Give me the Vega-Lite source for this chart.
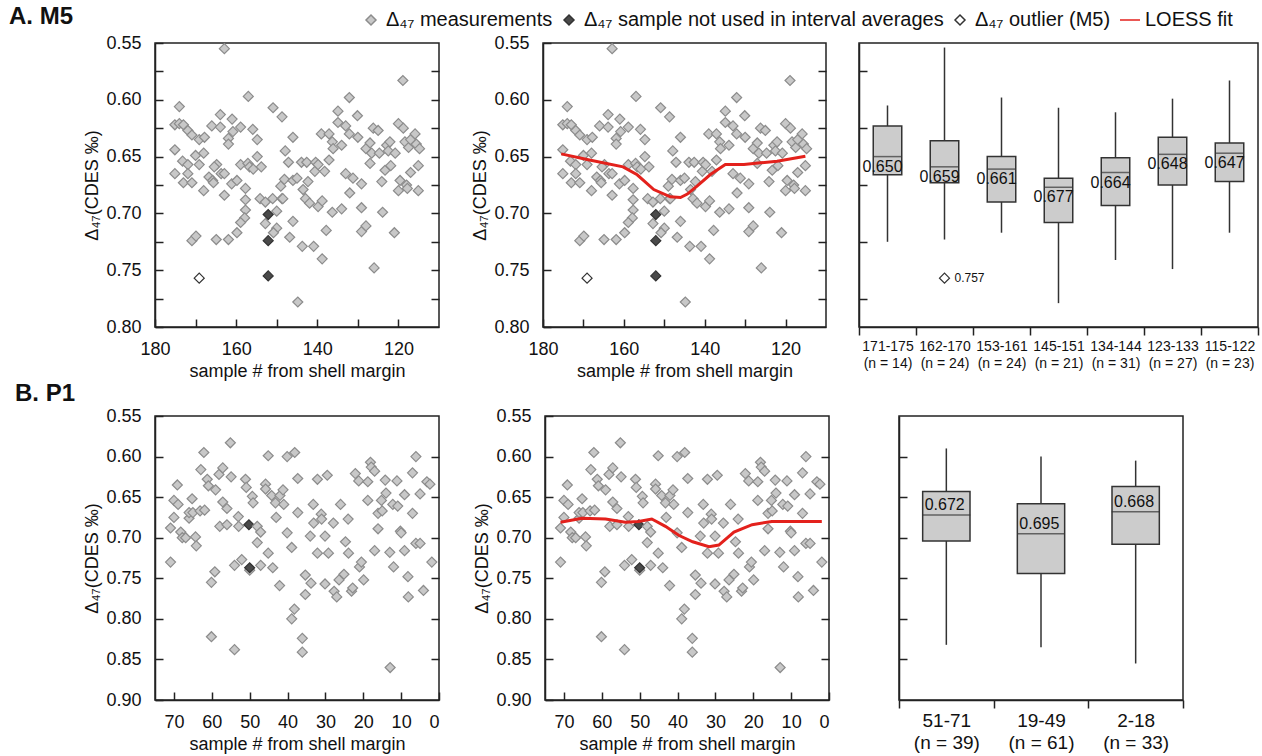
{
"$schema": "https://vega.github.io/schema/vega-lite/v6.json",
"background": "white",
"padding": {"left": 8, "top": 4, "right": 0, "bottom": 0},
"config": {
  "font": "Liberation Sans",
  "view": {"stroke": "#222222", "strokeWidth": 1.5},
  "axis": {"grid": false, "domainColor": "#222222", "domainWidth": 1.5, "tickColor": "#222222", "tickWidth": 1.5, "labelColor": "#111111", "titleColor": "#111111", "labelFont": "Liberation Sans", "titleFont": "Liberation Sans", "labelFontSize": 18, "titleFontSize": 18, "titleFontWeight": "normal"}
},
"datasets": {
"m5": [
{"s":162.9,"d":0.555,"t":"m"},{"s":157.0,"d":0.597,"t":"m"},{"s":174.0,"d":0.606,"t":"m"},{"s":150.9,"d":0.607,"t":"m"},{"s":148.7,"d":0.615,"t":"m"},{"s":163.9,"d":0.613,"t":"m"},{"s":175.1,"d":0.622,"t":"m"},{"s":174.0,"d":0.621,"t":"m"},{"s":173.0,"d":0.622,"t":"m"},{"s":171.9,"d":0.627,"t":"m"},{"s":170.9,"d":0.631,"t":"m"},{"s":169.1,"d":0.635,"t":"m"},{"s":167.8,"d":0.633,"t":"m"},{"s":166.0,"d":0.623,"t":"m"},{"s":163.9,"d":0.624,"t":"m"},{"s":161.0,"d":0.617,"t":"m"},{"s":160.8,"d":0.628,"t":"m"},{"s":161.9,"d":0.634,"t":"m"},{"s":161.9,"d":0.639,"t":"m"},{"s":158.9,"d":0.624,"t":"m"},{"s":155.9,"d":0.626,"t":"m"},{"s":154.8,"d":0.635,"t":"m"},{"s":175.1,"d":0.644,"t":"m"},{"s":170.0,"d":0.649,"t":"m"},{"s":168.0,"d":0.647,"t":"m"},{"s":173.2,"d":0.654,"t":"m"},{"s":171.9,"d":0.657,"t":"m"},{"s":169.1,"d":0.657,"t":"m"},{"s":175.1,"d":0.665,"t":"m"},{"s":171.9,"d":0.665,"t":"m"},{"s":173.0,"d":0.673,"t":"m"},{"s":170.9,"d":0.673,"t":"m"},{"s":168.0,"d":0.680,"t":"m"},{"s":166.7,"d":0.668,"t":"m"},{"s":165.8,"d":0.671,"t":"m"},{"s":165.6,"d":0.673,"t":"m"},{"s":164.8,"d":0.657,"t":"m"},{"s":165.4,"d":0.659,"t":"m"},{"s":163.7,"d":0.665,"t":"m"},{"s":162.9,"d":0.665,"t":"m"},{"s":162.9,"d":0.684,"t":"m"},{"s":161.1,"d":0.674,"t":"m"},{"s":159.8,"d":0.671,"t":"m"},{"s":158.9,"d":0.657,"t":"m"},{"s":157.1,"d":0.656,"t":"m"},{"s":156.7,"d":0.659,"t":"m"},{"s":155.8,"d":0.661,"t":"m"},{"s":154.8,"d":0.650,"t":"m"},{"s":153.8,"d":0.659,"t":"m"},{"s":157.7,"d":0.678,"t":"m"},{"s":157.7,"d":0.688,"t":"m"},{"s":157.7,"d":0.697,"t":"m"},{"s":157.9,"d":0.704,"t":"m"},{"s":158.9,"d":0.708,"t":"m"},{"s":159.8,"d":0.717,"t":"m"},{"s":161.9,"d":0.723,"t":"m"},{"s":164.9,"d":0.723,"t":"m"},{"s":170.9,"d":0.724,"t":"m"},{"s":169.9,"d":0.720,"t":"m"},
{"s":169.1,"d":0.757,"t":"o"},
{"s":154.1,"d":0.687,"t":"m"},{"s":152.8,"d":0.690,"t":"m"},{"s":152.8,"d":0.709,"t":"m"},
{"s":152.1,"d":0.701,"t":"n"},{"s":152.1,"d":0.724,"t":"n"},{"s":152.1,"d":0.755,"t":"n"},
{"s":151.0,"d":0.687,"t":"m"},{"s":150.0,"d":0.698,"t":"m"},{"s":150.0,"d":0.713,"t":"m"},{"s":150.8,"d":0.717,"t":"m"},{"s":149.0,"d":0.676,"t":"m"},{"s":148.7,"d":0.687,"t":"m"},{"s":147.9,"d":0.645,"t":"m"},{"s":148.5,"d":0.687,"t":"m"},{"s":148.1,"d":0.670,"t":"m"},{"s":147.1,"d":0.655,"t":"m"},{"s":146.8,"d":0.721,"t":"m"},{"s":146.0,"d":0.633,"t":"m"},{"s":146.0,"d":0.707,"t":"m"},{"s":146.0,"d":0.671,"t":"m"},{"s":145.0,"d":0.669,"t":"m"},{"s":144.8,"d":0.778,"t":"m"},{"s":143.9,"d":0.655,"t":"m"},{"s":143.7,"d":0.729,"t":"m"},{"s":143.5,"d":0.679,"t":"m"},{"s":142.9,"d":0.687,"t":"m"},{"s":142.6,"d":0.655,"t":"m"},{"s":142.3,"d":0.672,"t":"m"},{"s":141.9,"d":0.691,"t":"m"},{"s":140.9,"d":0.729,"t":"m"},{"s":140.6,"d":0.663,"t":"m"},{"s":140.4,"d":0.655,"t":"m"},{"s":139.8,"d":0.657,"t":"m"},{"s":139.8,"d":0.694,"t":"m"},{"s":139.0,"d":0.630,"t":"m"},{"s":138.8,"d":0.740,"t":"m"},{"s":138.8,"d":0.689,"t":"m"},{"s":138.2,"d":0.663,"t":"m"},{"s":137.8,"d":0.715,"t":"m"},
{"s":137.1,"d":0.630,"t":"m"},{"s":137.1,"d":0.653,"t":"m"},{"s":136.3,"d":0.637,"t":"m"},{"s":136.3,"d":0.699,"t":"m"},{"s":136.1,"d":0.643,"t":"m"},{"s":134.9,"d":0.610,"t":"m"},{"s":134.9,"d":0.620,"t":"m"},{"s":134.0,"d":0.640,"t":"m"},{"s":134.0,"d":0.696,"t":"m"},{"s":133.0,"d":0.623,"t":"m"},{"s":133.0,"d":0.665,"t":"m"},{"s":132.1,"d":0.598,"t":"m"},{"s":132.1,"d":0.630,"t":"m"},{"s":132.0,"d":0.682,"t":"m"},{"s":131.2,"d":0.669,"t":"m"},{"s":130.1,"d":0.614,"t":"m"},{"s":130.0,"d":0.633,"t":"m"},{"s":129.1,"d":0.674,"t":"m"},{"s":129.1,"d":0.695,"t":"m"},{"s":129.1,"d":0.716,"t":"m"},{"s":128.0,"d":0.711,"t":"m"},{"s":128.0,"d":0.643,"t":"m"},{"s":127.0,"d":0.638,"t":"m"},{"s":127.0,"d":0.656,"t":"m"},{"s":126.6,"d":0.647,"t":"m"},{"s":126.2,"d":0.625,"t":"m"},{"s":126.0,"d":0.748,"t":"m"},{"s":125.0,"d":0.627,"t":"m"},{"s":124.7,"d":0.647,"t":"m"},{"s":124.1,"d":0.672,"t":"m"},{"s":123.9,"d":0.699,"t":"m"},{"s":123.3,"d":0.662,"t":"m"},{"s":122.9,"d":0.640,"t":"m"},{"s":122.5,"d":0.645,"t":"m"},{"s":122.1,"d":0.637,"t":"m"},{"s":121.9,"d":0.658,"t":"m"},{"s":121.0,"d":0.717,"t":"m"},{"s":120.8,"d":0.647,"t":"m"},{"s":120.0,"d":0.621,"t":"m"},{"s":120.0,"d":0.680,"t":"m"},{"s":119.6,"d":0.671,"t":"m"},{"s":118.9,"d":0.583,"t":"m"},{"s":118.8,"d":0.625,"t":"m"},{"s":118.4,"d":0.637,"t":"m"},{"s":118.0,"d":0.675,"t":"m"},{"s":117.8,"d":0.678,"t":"m"},{"s":117.5,"d":0.642,"t":"m"},{"s":117.0,"d":0.635,"t":"m"},{"s":117.0,"d":0.664,"t":"m"},{"s":115.9,"d":0.630,"t":"m"},{"s":115.6,"d":0.639,"t":"m"},{"s":115.1,"d":0.680,"t":"m"},{"s":115.1,"d":0.658,"t":"m"},{"s":114.8,"d":0.643,"t":"m"}
],
"p1": [
{"s":70.9,"d":0.688,"t":"m"},{"s":70.9,"d":0.730,"t":"m"},{"s":70.0,"d":0.675,"t":"m"},{"s":70.0,"d":0.654,"t":"m"},{"s":69.1,"d":0.635,"t":"m"},{"s":68.9,"d":0.659,"t":"m"},{"s":68.2,"d":0.693,"t":"m"},{"s":67.8,"d":0.700,"t":"m"},{"s":66.9,"d":0.700,"t":"m"},{"s":66.0,"d":0.676,"t":"m"},{"s":66.0,"d":0.669,"t":"m"},{"s":65.2,"d":0.652,"t":"m"},{"s":65.0,"d":0.669,"t":"m"},{"s":64.3,"d":0.699,"t":"m"},{"s":64.1,"d":0.710,"t":"m"},{"s":63.1,"d":0.667,"t":"m"},{"s":62.9,"d":0.616,"t":"m"},{"s":62.1,"d":0.595,"t":"m"},{"s":61.9,"d":0.666,"t":"m"},{"s":61.2,"d":0.628,"t":"m"},{"s":60.9,"d":0.636,"t":"m"},{"s":60.1,"d":0.755,"t":"m"},{"s":60.1,"d":0.822,"t":"m"},{"s":59.2,"d":0.742,"t":"m"},{"s":59.0,"d":0.641,"t":"m"},{"s":58.1,"d":0.622,"t":"m"},{"s":57.9,"d":0.686,"t":"m"},{"s":57.1,"d":0.614,"t":"m"},{"s":57.1,"d":0.656,"t":"m"},{"s":56.0,"d":0.664,"t":"m"},{"s":56.0,"d":0.684,"t":"m"},{"s":55.1,"d":0.583,"t":"m"},{"s":54.9,"d":0.625,"t":"m"},{"s":54.0,"d":0.838,"t":"m"},{"s":54.0,"d":0.734,"t":"m"},{"s":53.0,"d":0.674,"t":"m"},{"s":52.9,"d":0.686,"t":"m"},{"s":52.1,"d":0.727,"t":"m"},{"s":51.1,"d":0.628,"t":"m"},{"s":50.9,"d":0.638,"t":"m"},
{"s":50.0,"d":0.740,"t":"m"},
{"s":50.2,"d":0.684,"t":"n"},{"s":50.0,"d":0.737,"t":"n"},
{"s":49.3,"d":0.649,"t":"m"},{"s":49.1,"d":0.657,"t":"m"},{"s":48.0,"d":0.686,"t":"m"},{"s":47.1,"d":0.693,"t":"m"},{"s":48.0,"d":0.706,"t":"m"},{"s":47.1,"d":0.734,"t":"m"},{"s":45.8,"d":0.634,"t":"m"},{"s":45.8,"d":0.640,"t":"m"},{"s":45.1,"d":0.599,"t":"m"},{"s":45.1,"d":0.719,"t":"m"},{"s":44.2,"d":0.648,"t":"m"},{"s":43.9,"d":0.737,"t":"m"},{"s":43.2,"d":0.657,"t":"m"},{"s":43.0,"d":0.675,"t":"m"},{"s":42.1,"d":0.759,"t":"m"},{"s":42.0,"d":0.648,"t":"m"},{"s":41.2,"d":0.641,"t":"m"},{"s":41.0,"d":0.659,"t":"m"},{"s":40.1,"d":0.600,"t":"m"},{"s":40.1,"d":0.694,"t":"m"},{"s":38.9,"d":0.712,"t":"m"},{"s":38.9,"d":0.800,"t":"m"},{"s":38.2,"d":0.788,"t":"m"},{"s":38.1,"d":0.595,"t":"m"},{"s":37.3,"d":0.627,"t":"m"},{"s":37.3,"d":0.669,"t":"m"},{"s":36.1,"d":0.824,"t":"m"},{"s":36.1,"d":0.841,"t":"m"},{"s":35.3,"d":0.746,"t":"m"},{"s":35.3,"d":0.770,"t":"m"},{"s":34.0,"d":0.698,"t":"m"},{"s":33.8,"d":0.756,"t":"m"},{"s":33.2,"d":0.659,"t":"m"},{"s":33.1,"d":0.682,"t":"m"},{"s":32.1,"d":0.628,"t":"m"},{"s":32.1,"d":0.719,"t":"m"},{"s":31.1,"d":0.671,"t":"m"},{"s":31.0,"d":0.677,"t":"m"},{"s":30.1,"d":0.698,"t":"m"},{"s":30.1,"d":0.757,"t":"m"},{"s":29.5,"d":0.623,"t":"m"},{"s":29.2,"d":0.719,"t":"m"},
{"s":27.9,"d":0.682,"t":"m"},{"s":27.7,"d":0.766,"t":"m"},{"s":27.0,"d":0.773,"t":"m"},{"s":26.4,"d":0.752,"t":"m"},{"s":26.0,"d":0.659,"t":"m"},{"s":25.1,"d":0.745,"t":"m"},{"s":24.7,"d":0.705,"t":"m"},{"s":24.0,"d":0.677,"t":"m"},{"s":23.9,"d":0.719,"t":"m"},{"s":23.1,"d":0.766,"t":"m"},{"s":22.8,"d":0.762,"t":"m"},{"s":22.1,"d":0.621,"t":"m"},{"s":21.2,"d":0.630,"t":"m"},{"s":21.0,"d":0.736,"t":"m"},{"s":20.5,"d":0.730,"t":"m"},{"s":19.9,"d":0.752,"t":"m"},{"s":18.8,"d":0.631,"t":"m"},{"s":18.8,"d":0.654,"t":"m"},{"s":18.1,"d":0.607,"t":"m"},{"s":17.9,"d":0.613,"t":"m"},{"s":17.0,"d":0.618,"t":"m"},{"s":17.0,"d":0.716,"t":"m"},{"s":16.1,"d":0.689,"t":"m"},{"s":16.1,"d":0.670,"t":"m"},{"s":15.2,"d":0.654,"t":"m"},{"s":15.0,"d":0.667,"t":"m"},{"s":14.2,"d":0.629,"t":"m"},{"s":14.0,"d":0.645,"t":"m"},{"s":13.0,"d":0.718,"t":"m"},{"s":12.9,"d":0.860,"t":"m"},{"s":12.2,"d":0.659,"t":"m"},{"s":12.0,"d":0.736,"t":"m"},{"s":11.1,"d":0.630,"t":"m"},{"s":10.9,"d":0.661,"t":"m"},{"s":10.2,"d":0.692,"t":"m"},{"s":10.0,"d":0.694,"t":"m"},{"s":9.1,"d":0.647,"t":"m"},{"s":9.1,"d":0.716,"t":"m"},{"s":8.2,"d":0.748,"t":"m"},{"s":8.1,"d":0.773,"t":"m"},{"s":7.0,"d":0.620,"t":"m"},{"s":7.0,"d":0.670,"t":"m"},{"s":6.1,"d":0.600,"t":"m"},{"s":6.1,"d":0.707,"t":"m"},{"s":5.0,"d":0.707,"t":"m"},{"s":5.0,"d":0.646,"t":"m"},{"s":4.1,"d":0.765,"t":"m"},{"s":3.2,"d":0.631,"t":"m"},{"s":2.4,"d":0.634,"t":"m"},{"s":1.9,"d":0.730,"t":"m"}
],
"m5loess": [
{"s":175.5,"d":0.6476,"t":"l"},{"s":169.1,"d":0.6526,"t":"l"},{"s":160.2,"d":0.659,"t":"l"},{"s":156.7,"d":0.666,"t":"l"},{"s":152.6,"d":0.679,"t":"l"},{"s":148.5,"d":0.6854,"t":"l"},{"s":146.0,"d":0.686,"t":"l"},{"s":144.3,"d":0.683,"t":"l"},{"s":141.9,"d":0.676,"t":"l"},{"s":138.6,"d":0.6658,"t":"l"},{"s":134.9,"d":0.657,"t":"l"},{"s":130.3,"d":0.657,"t":"l"},{"s":126.2,"d":0.6555,"t":"l"},{"s":122.1,"d":0.654,"t":"l"},{"s":115.1,"d":0.6497,"t":"l"}
],
"p1loess": [
{"s":70.9,"d":0.681,"t":"l"},{"s":65.2,"d":0.676,"t":"l"},{"s":59.0,"d":0.677,"t":"l"},{"s":53.8,"d":0.681,"t":"l"},{"s":50.3,"d":0.680,"t":"l"},{"s":46.8,"d":0.677,"t":"l"},{"s":43.2,"d":0.686,"t":"l"},{"s":39.7,"d":0.697,"t":"l"},{"s":36.0,"d":0.705,"t":"l"},{"s":31.7,"d":0.711,"t":"l"},{"s":29.1,"d":0.709,"t":"l"},{"s":25.1,"d":0.693,"t":"l"},{"s":20.3,"d":0.684,"t":"l"},{"s":15.1,"d":0.680,"t":"l"},{"s":8.9,"d":0.680,"t":"l"},{"s":1.9,"d":0.680,"t":"l"}
],
"m5box": [
{"g":"171-175|(n = 14)","lo":0.605,"q1":0.623,"med":0.650,"q3":0.666,"hi":0.725},
{"g":"162-170|(n = 24)","lo":0.554,"q1":0.636,"med":0.659,"q3":0.673,"hi":0.723},
{"g":"153-161|(n = 24)","lo":0.598,"q1":0.650,"med":0.661,"q3":0.690,"hi":0.717},
{"g":"145-151|(n = 21)","lo":0.607,"q1":0.669,"med":0.677,"q3":0.708,"hi":0.779},
{"g":"134-144|(n = 31)","lo":0.611,"q1":0.651,"med":0.664,"q3":0.693,"hi":0.741},
{"g":"123-133|(n = 27)","lo":0.599,"q1":0.633,"med":0.648,"q3":0.675,"hi":0.749},
{"g":"115-122|(n = 23)","lo":0.583,"q1":0.638,"med":0.647,"q3":0.672,"hi":0.717}
],
"m5out": [{"g":"162-170|(n = 24)","v":0.757}],
"p1box": [
{"g":"51-71|(n = 39)","lo":0.590,"q1":0.643,"med":0.672,"q3":0.704,"hi":0.832},
{"g":"19-49|(n = 61)","lo":0.600,"q1":0.658,"med":0.695,"q3":0.744,"hi":0.835},
{"g":"2-18|(n = 33)","lo":0.605,"q1":0.637,"med":0.668,"q3":0.708,"hi":0.855}
]
},
"spacing": 0,
"vconcat": [
{
 "spacing": 29,
 "hconcat": [
  {
   "spacing": 30,
   "hconcat": [
    {
     "width": 284, "height": 284,
     "title": {"text": "A. M5", "anchor": "start", "frame": "group", "dx": -146, "offset": 5, "fontSize": 24, "fontWeight": "bold", "color": "#111111", "font": "Liberation Sans"},
     "layer": [
      {"data": {"name": "m5"}, "mark": {"type": "point", "shape": "diamond", "filled": true, "size": 100, "opacity": 1, "strokeWidth": 1.2},
       "encoding": {
        "x": {"field": "s", "type": "quantitative", "scale": {"domain": [110, 180], "reverse": true, "nice": false, "zero": false}, "axis": {"values": [180,170,160,150,140,130,120], "labelExpr": "datum.value % 20 == 0 ? datum.label : ''", "labelFlush": false, "tickSize": -8, "labelPadding": 21, "title": "sample # from shell margin", "titlePadding": 4}},
        "y": {"field": "d", "type": "quantitative", "scale": {"domain": [0.55, 0.80], "reverse": true, "nice": false, "zero": false}, "axis": {"values": [0.55,0.575,0.6,0.625,0.65,0.675,0.7,0.725,0.75,0.775,0.8], "format": ".2f", "labelExpr": "abs(datum.value*20 - round(datum.value*20)) < 0.01 ? datum.label : ''", "labelFlush": false, "tickSize": -8, "labelPadding": 22, "title": "Δ₄₇(CDES ‰)", "titlePadding": 4}},
        "fill": {"field": "t", "type": "nominal", "scale": {"domain": ["m","n","o","l"], "range": ["#c8c8c8","#4a4a4a","#ffffff","#e3211c"]},
          "legend": {"orient": "none", "legendX": 206, "legendY": -33, "direction": "horizontal", "columns": 4, "title": null, "labelFontSize": 20, "labelFont": "Liberation Sans", "labelColor": "#111111", "labelLimit": 500, "symbolSize": 100, "columnPadding": 6, "labelOffset": 5,
            "labelExpr": "datum.value == 'm' ? 'Δ₄₇ measurements' : datum.value == 'n' ? 'Δ₄₇ sample not used in interval averages' : datum.value == 'o' ? 'Δ₄₇ outlier (M5)' : 'LOESS fit'",
            "encode": {"symbols": {"update": {"strokeWidth": {"signal": "datum.value === 'l' ? 3 : 1.2"}}}}}},
        "stroke": {"field": "t", "type": "nominal", "scale": {"domain": ["m","n","o","l"], "range": ["#8c8c8c","#333333","#333333","#e3211c"]}},
        "shape": {"field": "t", "type": "nominal", "scale": {"domain": ["m","n","o","l"], "range": ["diamond","diamond","diamond","M-2,0L2,0"]}}
       }},
      {"data": {"name": "m5"}, "mark": {"type": "point", "opacity": 0},
       "encoding": {
        "x": {"field": "s", "type": "quantitative"},
        "y": {"field": "d", "type": "quantitative", "scale": {"domain": [0.55, 0.80], "reverse": true, "nice": false, "zero": false}, "axis": {"orient": "right", "values": [0.575,0.6,0.625,0.65,0.675,0.7,0.725,0.75,0.775], "labels": false, "domain": false, "tickSize": -8, "title": null}}
       }}
     ],
     "resolve": {"scale": {"y": "independent"}}
    },
    {
     "width": 283, "height": 284,
     "layer": [
      {"layer": [
       {"data": {"name": "m5"}, "mark": {"type": "point", "shape": "diamond", "filled": true, "size": 100, "opacity": 1, "strokeWidth": 1.2},
        "encoding": {
         "x": {"field": "s", "type": "quantitative", "scale": {"domain": [110, 180], "reverse": true, "nice": false, "zero": false}, "axis": {"values": [180,170,160,150,140,130,120], "labelExpr": "datum.value % 20 == 0 ? datum.label : ''", "labelFlush": false, "tickSize": -8, "labelPadding": 21, "title": "sample # from shell margin", "titlePadding": 4}},
         "y": {"field": "d", "type": "quantitative", "scale": {"domain": [0.55, 0.80], "reverse": true, "nice": false, "zero": false}, "axis": {"values": [0.55,0.575,0.6,0.625,0.65,0.675,0.7,0.725,0.75,0.775,0.8], "format": ".2f", "labelExpr": "abs(datum.value*20 - round(datum.value*20)) < 0.01 ? datum.label : ''", "labelFlush": false, "tickSize": -8, "labelPadding": 22, "title": "Δ₄₇(CDES ‰)", "titlePadding": 4}},
         "fill": {"field": "t", "type": "nominal", "scale": {"domain": ["m","n","o","l"], "range": ["#c8c8c8","#4a4a4a","#ffffff","#e3211c"]}},
         "stroke": {"field": "t", "type": "nominal", "scale": {"domain": ["m","n","o","l"], "range": ["#8c8c8c","#333333","#333333","#e3211c"]}},
         "shape": {"field": "t", "type": "nominal", "scale": {"domain": ["m","n","o","l"], "range": ["diamond","diamond","diamond","M-2,0L2,0"]}}
        }},
       {"data": {"name": "m5loess"}, "mark": {"type": "line", "strokeWidth": 3},
        "encoding": {
         "x": {"field": "s", "type": "quantitative"},
         "y": {"field": "d", "type": "quantitative"},
         "stroke": {"field": "t", "type": "nominal"}
        }}
      ]},
      {"data": {"name": "m5"}, "mark": {"type": "point", "opacity": 0},
       "encoding": {
        "x": {"field": "s", "type": "quantitative"},
        "y": {"field": "d", "type": "quantitative", "scale": {"domain": [0.55, 0.80], "reverse": true, "nice": false, "zero": false}, "axis": {"orient": "right", "values": [0.575,0.6,0.625,0.65,0.675,0.7,0.725,0.75,0.775], "labels": false, "domain": false, "tickSize": -8, "title": null}}
       }}
     ],
     "resolve": {"scale": {"y": "independent"}}
    }
   ]
  },
  {
   "width": 399, "height": 284,
   "layer": [
    {"data": {"name": "m5box"}, "mark": {"type": "rule", "color": "#333333", "strokeWidth": 1.5},
     "encoding": {
      "x": {"field": "g", "type": "nominal", "sort": null, "scale": {"paddingInner": 0, "paddingOuter": 0}, "axis": {"labelExpr": "datum.value ? split(datum.value, '|') : ''", "labelAngle": 0, "labelFontSize": 14, "labelLineHeight": 17, "tickBand": "extent", "tickSize": 8, "labelPadding": 4, "title": null}},
      "y": {"field": "lo", "type": "quantitative", "scale": {"domain": [0.55, 0.80], "reverse": true, "nice": false, "zero": false}, "axis": {"values": [0.575,0.6,0.625,0.65,0.675,0.7,0.725,0.75,0.775], "labels": false, "tickSize": -8, "title": null}},
      "y2": {"field": "hi"}
     }},
    {"data": {"name": "m5box"}, "mark": {"type": "bar", "fill": "#cccccc", "stroke": "#333333", "strokeWidth": 1.5, "width": {"band": 0.5}},
     "encoding": {
      "x": {"field": "g", "type": "nominal", "sort": null},
      "y": {"field": "q1", "type": "quantitative"},
      "y2": {"field": "q3"}
     }},
    {"data": {"name": "m5box"}, "mark": {"type": "tick", "color": "#333333", "thickness": 1.5, "size": 28},
     "encoding": {
      "x": {"field": "g", "type": "nominal", "sort": null},
      "y": {"field": "med", "type": "quantitative"}
     }},
    {"data": {"name": "m5box"}, "mark": {"type": "text", "align": "center", "baseline": "middle", "dx": -5, "dy": 10, "fontSize": 16, "color": "#111111"},
     "encoding": {
      "x": {"field": "g", "type": "nominal", "sort": null},
      "y": {"field": "med", "type": "quantitative"},
      "text": {"field": "med", "type": "quantitative", "format": ".3f"}
     }},
    {"data": {"name": "m5out"}, "mark": {"type": "point", "shape": "diamond", "filled": true, "fill": "white", "stroke": "#333333", "strokeWidth": 1.2, "size": 100, "opacity": 1},
     "encoding": {
      "x": {"field": "g", "type": "nominal", "sort": null},
      "y": {"field": "v", "type": "quantitative"}
     }},
    {"data": {"name": "m5out"}, "mark": {"type": "text", "align": "left", "baseline": "middle", "dx": 10, "fontSize": 12, "color": "#111111"},
     "encoding": {
      "x": {"field": "g", "type": "nominal", "sort": null},
      "y": {"field": "v", "type": "quantitative"},
      "text": {"field": "v", "type": "quantitative", "format": ".3f"}
     }}
   ]
  }
 ]
},
{
 "spacing": 66,
 "hconcat": [
  {
   "spacing": 32,
   "hconcat": [
    {
     "width": 284, "height": 284,
     "title": {"text": "B. P1", "anchor": "start", "frame": "group", "dx": -140, "offset": 1, "fontSize": 24, "fontWeight": "bold", "color": "#111111", "font": "Liberation Sans"},
     "layer": [
      {"data": {"name": "p1"}, "mark": {"type": "point", "shape": "diamond", "filled": true, "size": 100, "opacity": 1, "strokeWidth": 1.2},
       "encoding": {
        "x": {"field": "s", "type": "quantitative", "scale": {"domain": [0, 75], "reverse": true, "nice": false, "zero": false}, "axis": {"values": [70,65,60,55,50,45,40,35,30,25,20,15,10,5,0], "labelExpr": "datum.value % 10 == 0 ? datum.label : ''", "tickSize": -8, "labelPadding": 21, "title": "sample # from shell margin", "titlePadding": 4}},
        "y": {"field": "d", "type": "quantitative", "scale": {"domain": [0.55, 0.90], "reverse": true, "nice": false, "zero": false}, "axis": {"values": [0.55,0.6,0.65,0.7,0.75,0.8,0.85,0.9], "format": ".2f", "labelFlush": false, "tickSize": -8, "labelPadding": 22, "title": "Δ₄₇(CDES ‰)", "titlePadding": 4}},
        "fill": {"field": "t", "type": "nominal", "scale": {"domain": ["m","n","o","l"], "range": ["#c8c8c8","#4a4a4a","#ffffff","#e3211c"]}},
        "stroke": {"field": "t", "type": "nominal", "scale": {"domain": ["m","n","o","l"], "range": ["#8c8c8c","#333333","#333333","#e3211c"]}},
        "shape": {"field": "t", "type": "nominal", "scale": {"domain": ["m","n","o","l"], "range": ["diamond","diamond","diamond","M-2,0L2,0"]}}
       }},
      {"data": {"name": "p1"}, "mark": {"type": "point", "opacity": 0},
       "encoding": {
        "x": {"field": "s", "type": "quantitative"},
        "y": {"field": "d", "type": "quantitative", "scale": {"domain": [0.55, 0.90], "reverse": true, "nice": false, "zero": false}, "axis": {"orient": "right", "values": [0.6,0.65,0.7,0.75,0.8,0.85], "labels": false, "domain": false, "tickSize": -8, "title": null}}
       }}
     ],
     "resolve": {"scale": {"y": "independent"}}
    },
    {
     "width": 284, "height": 284,
     "layer": [
      {"layer": [
       {"data": {"name": "p1"}, "mark": {"type": "point", "shape": "diamond", "filled": true, "size": 100, "opacity": 1, "strokeWidth": 1.2},
        "encoding": {
         "x": {"field": "s", "type": "quantitative", "scale": {"domain": [0, 75], "reverse": true, "nice": false, "zero": false}, "axis": {"values": [70,65,60,55,50,45,40,35,30,25,20,15,10,5,0], "labelExpr": "datum.value % 10 == 0 ? datum.label : ''", "tickSize": -8, "labelPadding": 21, "title": "sample # from shell margin", "titlePadding": 4}},
         "y": {"field": "d", "type": "quantitative", "scale": {"domain": [0.55, 0.90], "reverse": true, "nice": false, "zero": false}, "axis": {"values": [0.55,0.6,0.65,0.7,0.75,0.8,0.85,0.9], "format": ".2f", "labelFlush": false, "tickSize": -8, "labelPadding": 22, "title": "Δ₄₇(CDES ‰)", "titlePadding": 4}},
         "fill": {"field": "t", "type": "nominal", "scale": {"domain": ["m","n","o","l"], "range": ["#c8c8c8","#4a4a4a","#ffffff","#e3211c"]}},
         "stroke": {"field": "t", "type": "nominal", "scale": {"domain": ["m","n","o","l"], "range": ["#8c8c8c","#333333","#333333","#e3211c"]}},
         "shape": {"field": "t", "type": "nominal", "scale": {"domain": ["m","n","o","l"], "range": ["diamond","diamond","diamond","M-2,0L2,0"]}}
        }},
       {"data": {"name": "p1loess"}, "mark": {"type": "line", "strokeWidth": 3},
        "encoding": {
         "x": {"field": "s", "type": "quantitative"},
         "y": {"field": "d", "type": "quantitative"},
         "stroke": {"field": "t", "type": "nominal"}
        }}
      ]},
      {"data": {"name": "p1"}, "mark": {"type": "point", "opacity": 0},
       "encoding": {
        "x": {"field": "s", "type": "quantitative"},
        "y": {"field": "d", "type": "quantitative", "scale": {"domain": [0.55, 0.90], "reverse": true, "nice": false, "zero": false}, "axis": {"orient": "right", "values": [0.6,0.65,0.7,0.75,0.8,0.85], "labels": false, "domain": false, "tickSize": -8, "title": null}}
       }}
     ],
     "resolve": {"scale": {"y": "independent"}}
    }
   ]
  },
  {
   "width": 284, "height": 284,
   "layer": [
    {"data": {"name": "p1box"}, "mark": {"type": "rule", "color": "#333333", "strokeWidth": 1.5},
     "encoding": {
      "x": {"field": "g", "type": "nominal", "sort": null, "scale": {"paddingInner": 0, "paddingOuter": 0}, "axis": {"labelExpr": "datum.value ? split(datum.value, '|') : ''", "labelAngle": 0, "labelFontSize": 19, "labelLineHeight": 22, "tickBand": "extent", "tickSize": 8, "labelPadding": 3, "title": null}},
      "y": {"field": "lo", "type": "quantitative", "scale": {"domain": [0.55, 0.90], "reverse": true, "nice": false, "zero": false}, "axis": {"values": [0.6,0.65,0.7,0.75,0.8,0.85], "labels": false, "tickSize": -8, "title": null}},
      "y2": {"field": "hi"}
     }},
    {"data": {"name": "p1box"}, "mark": {"type": "bar", "fill": "#cccccc", "stroke": "#333333", "strokeWidth": 1.5, "width": {"band": 0.5}},
     "encoding": {
      "x": {"field": "g", "type": "nominal", "sort": null},
      "y": {"field": "q1", "type": "quantitative"},
      "y2": {"field": "q3"}
     }},
    {"data": {"name": "p1box"}, "mark": {"type": "tick", "color": "#333333", "thickness": 1.5, "size": 48},
     "encoding": {
      "x": {"field": "g", "type": "nominal", "sort": null},
      "y": {"field": "med", "type": "quantitative"}
     }},
    {"data": {"name": "p1box"}, "mark": {"type": "text", "align": "left", "baseline": "middle", "dx": 2, "dy": -10, "fontSize": 16, "color": "#111111"},
     "encoding": {
      "x": {"field": "g", "type": "nominal", "sort": null, "bandPosition": 0.25},
      "y": {"field": "med", "type": "quantitative"},
      "text": {"field": "med", "type": "quantitative", "format": ".3f"}
     }}
   ]
  }
 ]
}
]
}
